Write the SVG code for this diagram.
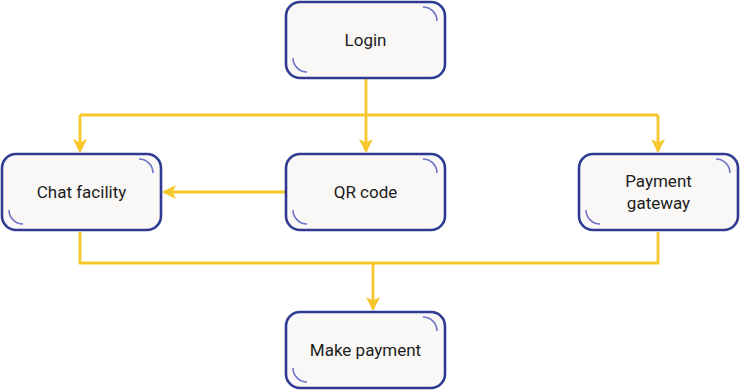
<svg xmlns="http://www.w3.org/2000/svg" width="740" height="390" viewBox="0 0 740 390">
<defs>
<style>
.box{fill:#faf8f7;stroke:#2f3a92;stroke-width:2.6}
.arc{fill:none;stroke:#6f74c8;stroke-width:1.6}
.lbl{font-family:Roboto,"Liberation Sans",sans-serif;font-size:17px;fill:#1c1c1c;text-anchor:middle}
.wire{fill:none;stroke:#f7c62b;stroke-width:2.8}
</style>
<marker id="ah" viewBox="0 0 14 14" refX="12" refY="7" markerWidth="14" markerHeight="14" markerUnits="userSpaceOnUse" orient="auto">
<path d="M0,0 L14,7 L0,14 L3.5,7 Z" fill="#f7c62b"/>
</marker>
</defs>
<g id="connectors">
<path class="wire" d="M366,79 V151" marker-end="url(#ah)"/>
<path class="wire" d="M80,115 H658"/>
<path class="wire" d="M80,115 V151" marker-end="url(#ah)"/>
<path class="wire" d="M658,115 V151" marker-end="url(#ah)"/>
<path class="wire" d="M285,192 H164" marker-end="url(#ah)"/>
<path class="wire" d="M80,232 V263 H658 V232"/>
<path class="wire" d="M373,263 V309" marker-end="url(#ah)"/>
</g>
<g id="login">
<rect class="box" x="286" y="2" width="159" height="76" rx="14"/>
<path class="arc" d="M423,7 A14,14 0 0 1 437,21"/>
<path class="arc" d="M293,58 A14,14 0 0 0 307,72"/>
<text class="lbl" x="365.5" y="46">Login</text>
</g>
<g id="chat">
<rect class="box" x="2" y="154" width="159" height="76" rx="14"/>
<path class="arc" d="M139,159 A14,14 0 0 1 153,173"/>
<path class="arc" d="M9,210 A14,14 0 0 0 23,224"/>
<text class="lbl" x="81.5" y="198">Chat facility</text>
</g>
<g id="qr">
<rect class="box" x="286" y="154" width="159" height="76" rx="14"/>
<path class="arc" d="M423,159 A14,14 0 0 1 437,173"/>
<path class="arc" d="M293,210 A14,14 0 0 0 307,224"/>
<text class="lbl" x="365.5" y="198">QR code</text>
</g>
<g id="payment">
<rect class="box" x="579" y="154" width="159" height="76" rx="14"/>
<path class="arc" d="M716,159 A14,14 0 0 1 730,173"/>
<path class="arc" d="M586,210 A14,14 0 0 0 600,224"/>
<text class="lbl" x="658.5" y="187">Payment</text>
<text class="lbl" x="658.5" y="209">gateway</text>
</g>
<g id="make">
<rect class="box" x="286" y="312" width="159" height="76" rx="14"/>
<path class="arc" d="M423,317 A14,14 0 0 1 437,331"/>
<path class="arc" d="M293,368 A14,14 0 0 0 307,382"/>
<text class="lbl" x="365.5" y="356">Make payment</text>
</g>
</svg>
